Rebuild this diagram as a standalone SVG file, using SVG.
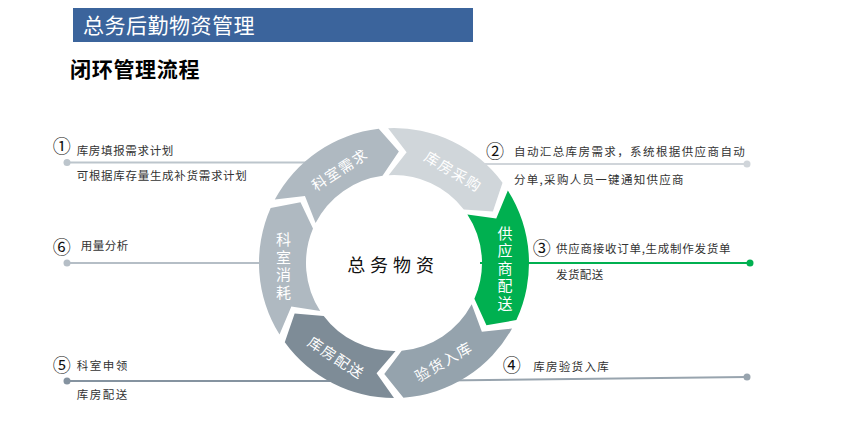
<svg xmlns="http://www.w3.org/2000/svg" width="842" height="424" viewBox="0 0 842 424">
<style>
text{font-family:"Noto Sans CJK SC","Liberation Sans",sans-serif;}
.note{font-size:11.5px;fill:#333;}
.num{font-size:18px;fill:#111;text-anchor:middle;}
.seg{font-size:14.5px;fill:#fff;text-anchor:middle;letter-spacing:1.5px;}
.vseg{font-size:15px;fill:#fff;writing-mode:vertical-rl;letter-spacing:2.5px;}
.ln{stroke-width:2;fill:none;}
</style>
<rect width="842" height="424" fill="#fff"/>
<g id="title">
<rect x="73" y="8" width="400" height="34" fill="#3b649c"/>
<text x="83" y="33" font-size="21" fill="#fff" letter-spacing="0.5">总务后勤物资管理</text>
</g>
<g id="subtitle">
<text x="70" y="77" font-size="21" font-weight="bold" fill="#000" letter-spacing="0.7">闭环管理流程</text>
</g>
<g id="connectors">
<line class="ln" x1="67" y1="162.5" x2="330" y2="162.5" stroke="#bcc5cc"/>
<circle cx="67" cy="162.5" r="3.5" fill="#bcc5cc"/>
<line class="ln" x1="420" y1="164" x2="747" y2="164" stroke="#d0d5da"/>
<circle cx="747" cy="164" r="3.5" fill="#d0d5da"/>
<line class="ln" x1="480" y1="263" x2="750" y2="263" stroke="#00b050"/>
<circle cx="750" cy="263" r="3.5" fill="#00b050"/>
<line class="ln" x1="400" y1="381" x2="747" y2="377" stroke="#98a4ae"/>
<circle cx="747" cy="377" r="3.5" fill="#98a4ae"/>
<line class="ln" x1="67" y1="381" x2="380" y2="381" stroke="#8593a0"/>
<circle cx="67" cy="381" r="3.5" fill="#8593a0"/>
<line class="ln" x1="67" y1="263" x2="300" y2="263" stroke="#b5bec6"/>
<circle cx="67" cy="263" r="3.5" fill="#b5bec6"/>
</g>
<g id="seg-1">
<path d="M274.80,199.62 A135,135 0 0 1 378.72,128.87 L398.86,151.61 L382.51,175.75 A88,88 0 0 0 315.59,223.05 L304.95,195.90 Z" fill="#afb9c1"/>
<text class="seg" transform="translate(340,170) rotate(-33)" y="5">科室需求</text>
</g>
<g id="seg-2">
<path d="M388.11,128.13 A135,135 0 0 1 502.52,182.70 L492.90,211.51 L463.81,209.43 A88,88 0 0 0 388.63,175.16 L406.62,152.22 Z" fill="#d0d6da"/>
<text class="seg" transform="translate(453,172) rotate(31)" y="5">库房采购</text>
</g>
<g id="seg-3">
<path d="M507.86,190.46 A135,135 0 0 1 516.35,320.05 L486.44,325.35 L474.39,298.79 A88,88 0 0 0 467.38,214.43 L496.25,218.54 Z" fill="#00b050"/>
<text class="vseg" x="505" y="225.5">供应商配送</text>
</g>
<g id="seg-4">
<path d="M512.07,328.45 A135,135 0 0 1 403.42,397.67 L384.28,374.08 L401.67,350.66 A88,88 0 0 0 471.70,304.31 L481.86,331.65 Z" fill="#95a3ad"/>
<text class="seg" transform="translate(444,362) rotate(-30)" y="5">验货入库</text>
</g>
<g id="seg-5">
<path d="M394,398 A135,135 0 0 1 284.78,342.35 L294.65,313.62 L323.72,315.96 A88,88 0 0 0 395.54,350.99 L376.56,373.13 Z" fill="#7e8c97"/>
<text class="seg" transform="translate(336,358) rotate(33)" y="5">库房配送</text>
</g>
<g id="seg-6">
<path d="M279.51,334.54 A135,135 0 0 1 270.67,208.09 L300.49,202.27 L313.00,228.62 A88,88 0 0 0 320.20,310.93 L291.36,306.57 Z" fill="#afb9c1"/>
<text class="vseg" x="283.5" y="232">科室消耗</text>
</g>
<g id="center">
<text x="393" y="272" font-size="18" fill="#111" text-anchor="middle" letter-spacing="4.9">总务物资</text>
</g>
<g id="note-1">
<text class="num" x="61.7" y="153">①</text>
<text class="note" x="76.7" y="155" letter-spacing="0.66">库房填报需求计划</text>
<text class="note" x="76.7" y="180" letter-spacing="0.7">可根据库存量生成补货需求计划</text>
</g>
<g id="note-2">
<text class="num" x="495" y="158">②</text>
<text class="note" x="514" y="156" font-size="12" letter-spacing="1.4">自动汇总库房需求，系统根据供应商自动</text>
<text class="note" x="514" y="184" font-size="12" letter-spacing="1.3">分单,采购人员一键通知供应商</text>
</g>
<g id="note-3">
<text class="num" x="541.7" y="255">③</text>
<text class="note" x="556" y="253" letter-spacing="0.74">供应商接收订单,生成制作发货单</text>
<text class="note" x="556" y="279" letter-spacing="0.4">发货配送</text>
</g>
<g id="note-4">
<text class="num" x="511.7" y="372">④</text>
<text class="note" x="533.3" y="371" font-size="12" letter-spacing="1.27">库房验货入库</text>
</g>
<g id="note-5">
<text class="num" x="61.7" y="372">⑤</text>
<text class="note" x="76.7" y="370" font-size="12" letter-spacing="1.5">科室申领</text>
<text class="note" x="76.7" y="399" font-size="12" letter-spacing="1.5">库房配送</text>
</g>
<g id="note-6">
<text class="num" x="61.7" y="254">⑥</text>
<text class="note" x="80.7" y="250" letter-spacing="0.5">用量分析</text>
</g>
</svg>
